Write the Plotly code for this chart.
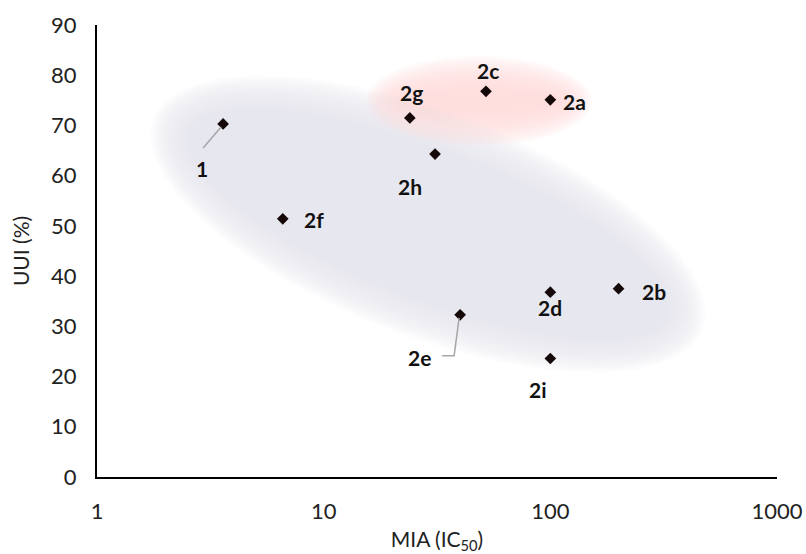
import numpy as np
import plotly.graph_objects as go

# ---- data ----
labels = ["1", "2a", "2b", "2c", "2d", "2e", "2f", "2g", "2h", "2i"]
mia = [3.6, 100, 200, 52, 100, 40, 6.6, 24, 31, 100]
uui = [70.3, 75.1, 37.5, 76.8, 36.8, 32.3, 51.4, 71.5, 64.3, 23.6]
x_ticks = [1, 10, 100, 1000]
y_ticks = [0, 10, 20, 30, 40, 50, 60, 70, 80, 90]

# label offsets in pixels (dx right, dy up)
label_off = {
    "1": (-21, -45), "2a": (24, -2), "2b": (35, -3), "2c": (2, 21),
    "2d": (0, -15), "2e": (-41, -43), "2f": (31, -1), "2g": (2, 25),
    "2h": (-25, -32), "2i": (-12, -31),
}

W, H = 806, 554
L, R, T, B = 97, 29, 25, 77
PW, PH = W - L - R, H - T - B

FONT = "Lato"

fig = go.Figure()

fig.add_trace(go.Scatter(
    x=mia, y=uui, mode="markers",
    marker=dict(symbol="diamond", size=9, color="#150808"),
    hoverinfo="skip", showlegend=False,
))


def ellipse_path(cx, cy, a, b, ang, n=100):
    t = np.linspace(0, 2 * np.pi, n, endpoint=False)
    c, s = np.cos(np.radians(ang)), np.sin(np.radians(ang))
    X = cx + a * np.cos(t) * c - b * np.sin(t) * s
    Y = cy + a * np.cos(t) * s + b * np.sin(t) * c
    px = (X - L) / PW
    py = (T + PH - Y) / PH
    pts = [f"{u:.5f},{v:.5f}" for u, v in zip(px, py)]
    return "M " + " L ".join(pts) + " Z"


def soft_ellipse(cx, cy, a, b, ang, color, blur, layers=18, op=0.12):
    for i in range(layers):
        d = blur - 2 * blur * i / (layers - 1)
        fig.add_shape(type="path", xref="paper", yref="paper",
                      path=ellipse_path(cx, cy, a + d, b + d, ang),
                      fillcolor=color, opacity=op, line=dict(width=0),
                      layer="below")


soft_ellipse(428, 224, 270, 88, 21, "rgb(231,234,242)", blur=24)
soft_ellipse(479, 101, 95, 27, 0, "rgb(252,222,222)", blur=18)

# point labels
for lab, xv, yv in zip(labels, mia, uui):
    dx, dy = label_off[lab]
    fig.add_annotation(x=np.log10(xv), y=yv, xref="x", yref="y", text=f"<b>{lab}</b>",
                       showarrow=False, xshift=dx, yshift=dy,
                       font=dict(family=FONT, size=21, color="#111111"))

# leader lines (pixel offsets from the data point, y up)
grey = dict(color="#a6a6a6", width=1.5)
i1 = labels.index("1")
fig.add_shape(type="path", xref="x", yref="y", xsizemode="pixel", ysizemode="pixel",
              xanchor=mia[i1], yanchor=uui[i1],
              path="M -2,-3 L -20,-24", line=grey)
ie = labels.index("2e")
fig.add_shape(type="path", xref="x", yref="y", xsizemode="pixel", ysizemode="pixel",
              xanchor=mia[ie], yanchor=uui[ie],
              path="M -1,-3 L -6,-41 L -18,-41", line=grey)

fig.update_xaxes(type="log", range=[0, 3], tickvals=x_ticks,
                 ticktext=[str(v) for v in x_ticks], showgrid=False,
                 showline=True, linecolor="black", linewidth=2, ticks="",
                 ticklabelstandoff=14, zeroline=False, automargin=False,
                 tickfont=dict(family=FONT, size=22, color="#222"),
                 title=dict(text="MIA (IC<sub>50</sub>)", standoff=12,
                            font=dict(family=FONT, size=21, color="#222")))
fig.update_yaxes(range=[0, 90], tickvals=y_ticks, showgrid=False,
                 showline=True, linecolor="black", linewidth=2, ticks="",
                 ticklabelstandoff=14, zeroline=False, automargin=False,
                 tickfont=dict(family=FONT, size=22, color="#222"),
                 title=dict(text="UUI (%)", standoff=16,
                            font=dict(family=FONT, size=21, color="#222")))

fig.update_layout(width=W, height=H, margin=dict(l=L, r=R, t=T, b=B),
                  plot_bgcolor="white", paper_bgcolor="white")

fig.write_html("out.html")
